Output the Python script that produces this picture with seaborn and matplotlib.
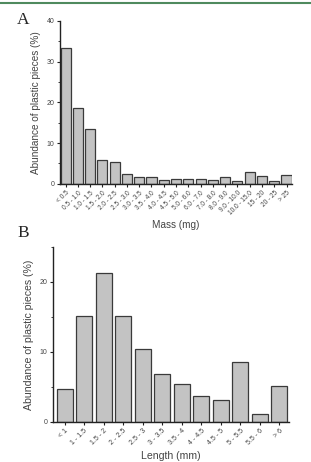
import matplotlib
matplotlib.use("Agg")
import matplotlib.pyplot as plt
import seaborn as sns
import pandas as pd
from matplotlib.ticker import MultipleLocator
from matplotlib.lines import Line2D

mass_bins = ["< 0.5", "0.5 - 1.0", "1.0 - 1.5", "1.5 - 2.0", "2.0 - 2.5",
             "2.5 - 3.0", "3.0 - 3.5", "3.5 - 4.0", "4.0 - 4.5", "4.5 - 5.0",
             "5.0 - 6.0", "6.0 - 7.0", "7.0 - 8.0", "8.0 - 9.0", "9.0 - 10.0",
             "10.0 - 15.0", "15 - 20", "20 - 25", "> 25"]
mass_pct = [33.4, 18.7, 13.5, 5.8, 5.3, 2.5, 1.8, 1.6, 1.05, 1.3,
            1.3, 1.3, 1.05, 1.6, 0.75, 3.0, 1.9, 0.75, 2.1]

length_bins = ["< 1", "1 - 1.5", "1.5 - 2", "2 - 2.5", "2.5 - 3", "3 - 3.5",
               "3.5 - 4", "4 - 4.5", "4.5 - 5", "5 - 5.5", "5.5 - 6", "> 6"]
length_pct = [4.7, 15.1, 21.3, 15.2, 10.4, 6.9, 5.4, 3.7, 3.1, 8.5, 1.1, 5.2]

sns.set_style("ticks")
plt.rcParams["font.family"] = ["Liberation Sans", "DejaVu Sans"]

fig = plt.figure(figsize=(3.11, 4.62), dpi=100)

# green rule along the top edge
fig.add_artist(Line2D([0, 1], [0.993, 0.993], color="#4f8a5e", lw=1.5))

axA = fig.add_axes([0.193, 0.602, 0.746, 0.353])
axB = fig.add_axes([0.170, 0.0866, 0.759, 0.379])

dfA = pd.DataFrame({"bin": mass_bins, "pct": mass_pct})
dfB = pd.DataFrame({"bin": length_bins, "pct": length_pct})

sns.barplot(data=dfA, x="bin", y="pct", ax=axA, color="#c3c3c3",
            edgecolor="#3a3a3a", linewidth=0.9, width=0.82, saturation=1)
sns.barplot(data=dfB, x="bin", y="pct", ax=axB, color="#c3c3c3",
            edgecolor="#3a3a3a", linewidth=0.9, width=0.82, saturation=1)

ylabel = "Abundance of plastic pieces (%)"
txt = "#444444"

for ax, ymax, step, xl, xlim, fs_tick, fs_lab in [
        (axA, 40, 10, "Mass (mg)", (-0.45, 18.45), 4.7, 7.2),
        (axB, 25, 10, "Length (mm)", (-0.6, 11.5), 5.0, 7.6)]:
    ax.set_ylim(0, ymax)
    ax.set_xlim(*xlim)
    ax.yaxis.set_major_locator(MultipleLocator(step))
    ax.yaxis.set_minor_locator(MultipleLocator(step / 2))
    for s in ["top", "right"]:
        ax.spines[s].set_visible(False)
    for s in ["left", "bottom"]:
        ax.spines[s].set_linewidth(1.0)
        ax.spines[s].set_color("#222222")
    ax.tick_params(axis="both", which="major", direction="out", length=2.5,
                   width=0.8, colors="#222222", labelcolor=txt, pad=1.5)
    ax.tick_params(axis="y", which="minor", direction="out", length=1.5,
                   width=0.6, colors="#222222")
    ax.tick_params(axis="y", labelsize=5.0)
    ax.tick_params(axis="x", labelsize=fs_tick)
    for lab in ax.get_xticklabels():
        lab.set_rotation(45)
        lab.set_ha("right")
        lab.set_rotation_mode("anchor")
    ax.set_ylabel(ylabel, fontsize=fs_lab, color=txt, labelpad=4)
    ax.set_xlabel(xl, fontsize=fs_lab, color=txt, labelpad=3)

fig.text(0.055, 0.957, "A", family="Liberation Serif", fontsize=12.5, va="center")
fig.text(0.055, 0.496, "B", family="Liberation Serif", fontsize=12.5, va="center")

fig.savefig("out.png", dpi=100)
